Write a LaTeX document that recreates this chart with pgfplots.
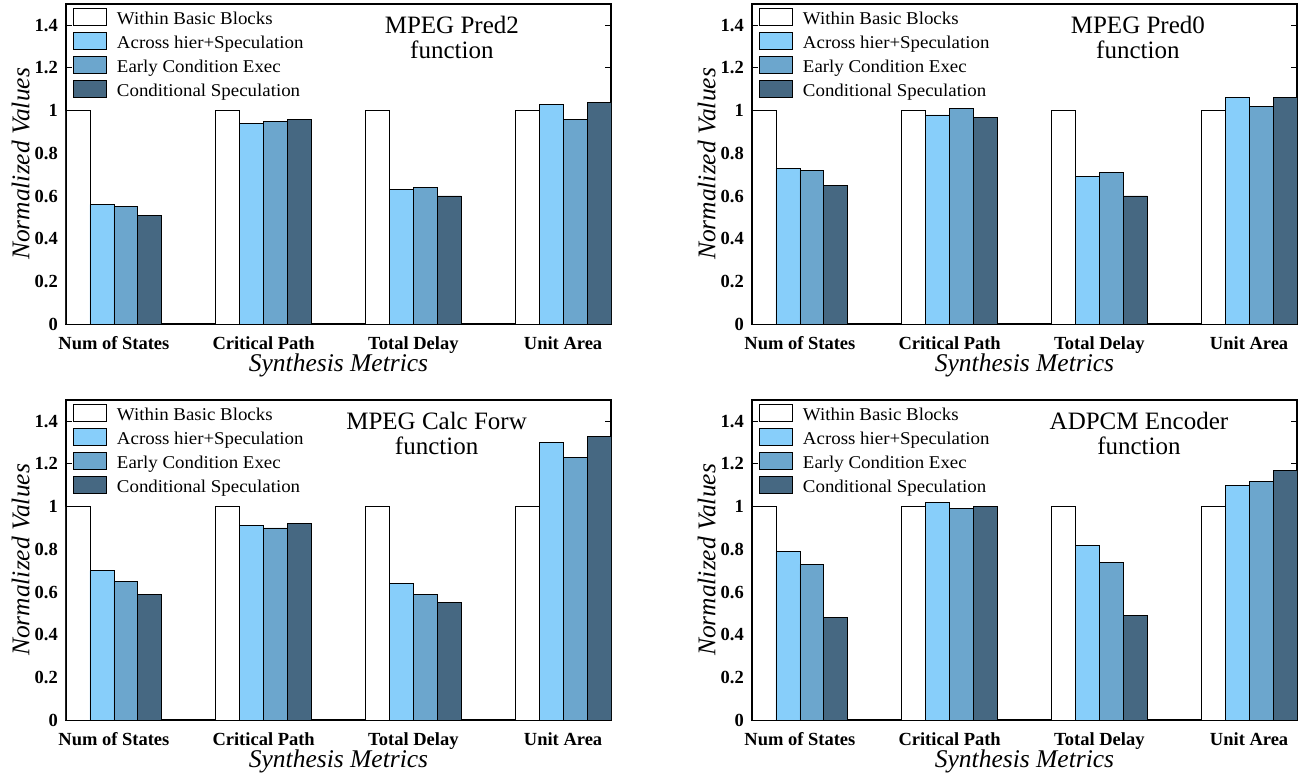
\documentclass[border=0pt]{standalone}
\usepackage{fontspec}
\setmainfont{Liberation Serif}
\newfontfamily\legfont[FakeStretch=1.05]{Liberation Serif}
\usepackage{pgfplots}
\pgfplotsset{compat=1.18}
\definecolor{cA}{RGB}{135,206,250}
\definecolor{cB}{RGB}{108,166,205}
\definecolor{cC}{RGB}{70,104,130}
\pgfplotsset{
  panel/.style={
    scale only axis, width=545pt, height=320pt, anchor=south west,
    xmin=-0.32, xmax=3.32, ymin=0, ymax=1.5,
    xtick={0,1,2,3},
    xticklabels={Num of States, Critical Path, Total Delay, Unit Area},
    ytick={0,0.2,0.4,0.6,0.8,1,1.2,1.4},
    axis line style={line width=1.2pt},
    major tick length=6pt,
    tick style={line width=1pt, black},
    x tick style={draw=none},
    tick align=inside,
    /pgf/number format/assume math mode=true,
    ticklabel style={font=\bfseries\fontsize{18.5}{20}\selectfont},
    yticklabel style={inner sep=0pt, xshift=-8pt},
    xticklabel style={inner sep=0pt, yshift=-12pt, anchor=north},
    xlabel={Synthesis Metrics}, ylabel={Normalized Values},
    label style={font=\itshape\fontsize{25.5}{25}\selectfont},
    xlabel style={at={(axis description cs:0.5,-0.128)}, anchor=center},
    ylabel style={at={(axis description cs:-0.083,0.5)}, anchor=center},
    legend cell align=left,
    legend style={at={(axis description cs:0.0128,0.99)}, anchor=north west,
      draw=none, fill=none, inner sep=0pt,
      font=\legfont\fontsize{18}{20}\selectfont,
      nodes={inner sep=0pt},
      row sep=5.5pt,
      /tikz/every even column/.append style={text height=17pt, text depth=0pt},
      /tikz/every odd column/.append style={column sep=10pt}},
    legend image code/.code={\draw[##1] (0pt,-8.5pt) rectangle (33pt,8.5pt);},
  },
  bb/.style={ybar, bar width=0.16, bar shift=0pt, draw=black, line width=0.8pt},
}
\newcommand{\paneltitle}[2]{\node[font=\fontsize{25}{25}\selectfont, align=center, anchor=north, inner sep=0pt] at (axis description cs:#1,0.9625) {#2};}
\begin{document}
\begin{tikzpicture}
\useasboundingbox (0,0) rectangle (1304pt,779pt);
% top-left: MPEG Pred2
\begin{axis}[panel, at={(66pt,455pt)}]
\addplot[bb, fill=white] coordinates {(-0.24,1) (0.76,1) (1.76,1) (2.76,1)};
\addplot[bb, fill=cA] coordinates {(-0.08,0.56) (0.92,0.94) (1.92,0.63) (2.92,1.03)};
\addplot[bb, fill=cB] coordinates {(0.08,0.55) (1.08,0.95) (2.08,0.64) (3.08,0.96)};
\addplot[bb, fill=cC] coordinates {(0.24,0.51) (1.24,0.96) (2.24,0.60) (3.24,1.04)};
\legend{Within Basic Blocks, Across hier+Speculation, Early Condition Exec, Conditional Speculation}
\paneltitle{0.708}{MPEG Pred2\\function}
\end{axis}
% top-right: MPEG Pred0
\begin{axis}[panel, at={(752pt,455pt)}]
\addplot[bb, fill=white] coordinates {(-0.24,1) (0.76,1) (1.76,1) (2.76,1)};
\addplot[bb, fill=cA] coordinates {(-0.08,0.73) (0.92,0.98) (1.92,0.69) (2.92,1.06)};
\addplot[bb, fill=cB] coordinates {(0.08,0.72) (1.08,1.01) (2.08,0.71) (3.08,1.02)};
\addplot[bb, fill=cC] coordinates {(0.24,0.65) (1.24,0.97) (2.24,0.60) (3.24,1.06)};
\legend{Within Basic Blocks, Across hier+Speculation, Early Condition Exec, Conditional Speculation}
\paneltitle{0.708}{MPEG Pred0\\function}
\end{axis}
% bottom-left: MPEG Calc Forw
\begin{axis}[panel, at={(66pt,59pt)}]
\addplot[bb, fill=white] coordinates {(-0.24,1) (0.76,1) (1.76,1) (2.76,1)};
\addplot[bb, fill=cA] coordinates {(-0.08,0.70) (0.92,0.91) (1.92,0.64) (2.92,1.30)};
\addplot[bb, fill=cB] coordinates {(0.08,0.65) (1.08,0.90) (2.08,0.59) (3.08,1.23)};
\addplot[bb, fill=cC] coordinates {(0.24,0.59) (1.24,0.92) (2.24,0.55) (3.24,1.33)};
\legend{Within Basic Blocks, Across hier+Speculation, Early Condition Exec, Conditional Speculation}
\paneltitle{0.68}{MPEG Calc Forw\\function}
\end{axis}
% bottom-right: ADPCM Encoder
\begin{axis}[panel, at={(752pt,59pt)}]
\addplot[bb, fill=white] coordinates {(-0.24,1) (0.76,1) (1.76,1) (2.76,1)};
\addplot[bb, fill=cA] coordinates {(-0.08,0.79) (0.92,1.02) (1.92,0.82) (2.92,1.10)};
\addplot[bb, fill=cB] coordinates {(0.08,0.73) (1.08,0.99) (2.08,0.74) (3.08,1.12)};
\addplot[bb, fill=cC] coordinates {(0.24,0.48) (1.24,1.00) (2.24,0.49) (3.24,1.17)};
\legend{Within Basic Blocks, Across hier+Speculation, Early Condition Exec, Conditional Speculation}
\paneltitle{0.71}{ADPCM Encoder\\function}
\end{axis}
\end{tikzpicture}
\end{document}
